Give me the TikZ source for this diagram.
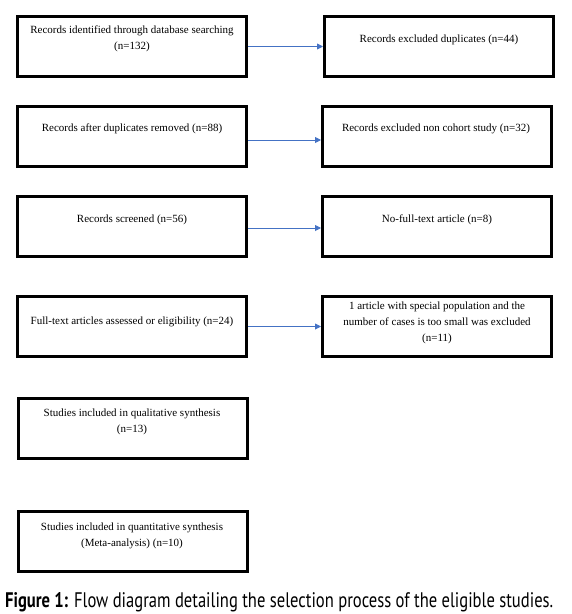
\documentclass[tikz,border=0pt]{standalone}
\usepackage{fontspec}
\setmainfont{Liberation Serif}
\newfontfamily\capfont{PT Sans}
\usetikzlibrary{arrows.meta}
\definecolor{arrowblue}{HTML}{4472C4}
\tikzset{
  box/.style={draw=black, line width=3pt, minimum width=229pt, minimum height=60pt, inner sep=0pt},
  txt/.style={align=center, font=\fontsize{11pt}{16pt}\selectfont, inner sep=0pt},
  link/.style={draw=arrowblue, line width=0.9pt, -{Triangle[length=6pt,width=6pt]}}
}
\begin{document}
\begin{tikzpicture}[x=1pt,y=-1pt]
\useasboundingbox (0,0) rectangle (572,614);
% left column
\node[box] (b1) at (132,46.5) {};
\node[box] (b2) at (132,136.5) {};
\node[box] (b3) at (132,226.5) {};
\node[box] (b4) at (132,326.5) {};
\node[box] (b5) at (132.5,428.5) {};
\node[box] (b6) at (132.5,541.5) {};
% right column
\node[box] (r1) at (439,46.5) {};
\node[box] (r2) at (437,136.5) {};
\node[box] (r3) at (437,226.5) {};
\node[box] (r4) at (437,326.5) {};
% texts
\node[txt] (t1) at (132,39) {Records identified through database searching\\(n=132)};
\node[txt] (t2) at (132,129) {Records after duplicates removed (n=88)};
\node[txt] (t3) at (132,220) {Records screened (n=56)};
\node[txt] (t4) at (132,322) {Full-text articles assessed or eligibility (n=24)};
\node[txt] (t5) at (132,422) {Studies included in qualitative synthesis\\(n=13)};
\node[txt] (t6) at (132,535.5) {Studies included in quantitative synthesis\\(Meta-analysis) (n=10)};
\node[txt] (u1) at (439,40) {Records excluded duplicates (n=44)};
\node[txt] (u2) at (436,129) {Records excluded non cohort study (n=32)};
\node[txt] (u3) at (437,220) {No-full-text article (n=8)};
\node[txt] (u4) at (437,323) {1 article with special population and the\\number of cases is too small was excluded\\(n=11)};
% connectors
\draw[link] (b1.east) -- (r1.west);
\draw[link] ([yshift=-3.5pt]b2.east) -- ([yshift=-3.5pt]r2.west);
\draw[link] ([yshift=-1.5pt]b3.east) -- ([yshift=-1.5pt]r3.west);
\draw[link] (b4.east) -- (r4.west);
% caption
\node[anchor=base west, inner sep=0pt] (cap) at (5,607) {\resizebox{548pt}{15pt}{\capfont\textbf{Figure 1:} Flow diagram detailing the selection process of the eligible studies.}};
\end{tikzpicture}
\end{document}
